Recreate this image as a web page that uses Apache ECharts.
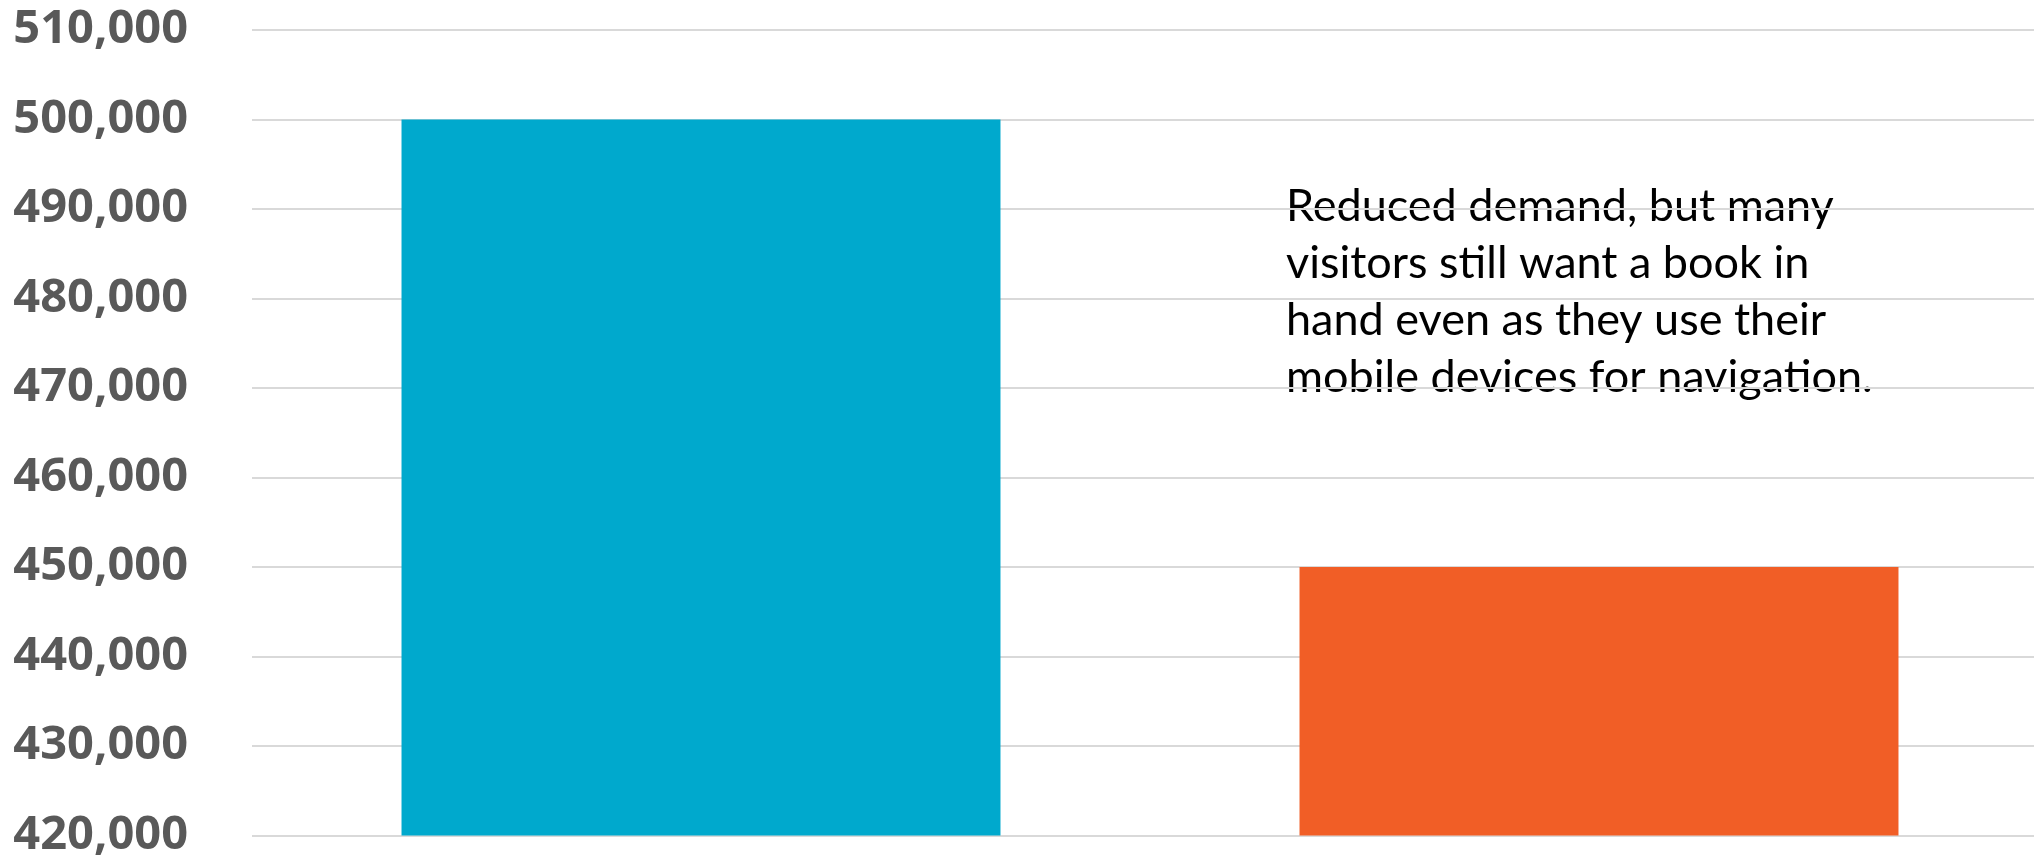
<!DOCTYPE html>
<html>
<head>
<meta charset="utf-8">
<style>
  html, body { margin: 0; padding: 0; background: #ffffff; overflow: hidden; }
  /* plot runs a little past the right edge of the window */
  #chart { width: 2048px; height: 859px; }
</style>
<script src="https://cdn.jsdelivr.net/npm/echarts@6/dist/echarts.min.js"></script>
</head>
<body>
<div id="chart"></div>
<script>
// Guidebook sales, two periods
const categories = ['Previous', 'Current'];
const salesValues = [500000, 450000];
const barColors = ['#00A9CD', '#F15E26'];

// Value axis range and tick step
const yMin = 420000;
const yMax = 510000;
const yStep = 10000;

const noteLines = [
  'Reduced demand, but many',
  'visitors still want a book in',
  'hand even as they use their',
  'mobile devices for navigation.'
];

const chart = echarts.init(document.getElementById('chart'), null, { renderer: 'canvas' });

chart.setOption({
  animation: false,
  backgroundColor: '#ffffff',
  grid: { left: 252, right: 0, top: 30, bottom: 22, containLabel: false },
  xAxis: {
    type: 'category',
    data: categories,
    axisLine: { show: false },
    axisTick: { show: false },
    axisLabel: { show: false },
    splitLine: { show: false }
  },
  yAxis: {
    type: 'value',
    min: yMin,
    max: yMax,
    interval: yStep,
    axisLine: { show: false },
    axisTick: { show: false },
    splitLine: { show: true, lineStyle: { color: '#d9d9d9', width: 2 } },
    axisLabel: {
      margin: 64,
      color: '#595959',
      fontFamily: 'Open Sans',
      fontWeight: 'bold',
      fontSize: 47,
      formatter: v => v.toLocaleString('en-US')
    }
  },
  series: [{
    type: 'bar',
    barWidth: '66.7%',
    data: salesValues.map((v, i) => ({ value: v, itemStyle: { color: barColors[i] } }))
  }],
  graphic: [{
    type: 'text',
    left: 1286,
    top: 178,
    style: {
      text: noteLines.join('\n'),
      fill: '#000000',
      font: '45px Lato',
      lineHeight: 57
    }
  }]
});
</script>
</body>
</html>
